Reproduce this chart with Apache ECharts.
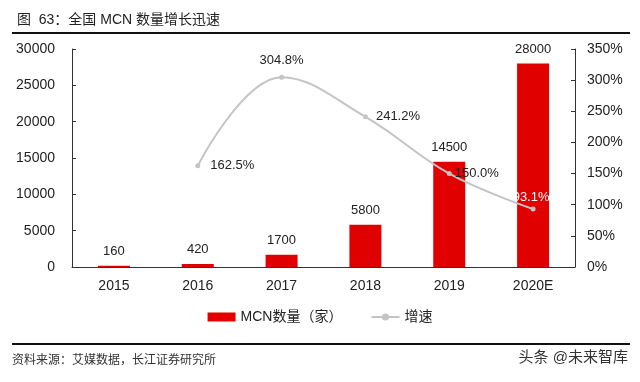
<!DOCTYPE html>
<html lang="zh">
<head>
    <meta charset="UTF-8">
    <title>mcn-growth</title>
    <script src="https://cdn.jsdelivr.net/npm/echarts@6.0.0/dist/echarts.min.js"></script>
    <style>
        body { margin: 0; background: #fff; }
    </style>
</head>
<body>
<div id="main" style="width: 640px;height:382px;"></div>
<script>
    // 数据
    var years = ['2015', '2016', '2017', '2018', '2019', '2020E'];
    var mcnCount = [160, 420, 1700, 5800, 14500, 28000];
    var growthRate = [null, 162.5, 304.8, 241.2, 150.0, 93.1];

    var font = '"Liberation Sans", Arial, "Noto Sans CJK SC", sans-serif';

    var chart = echarts.init(document.getElementById('main'));
    var option = {
        backgroundColor: '#fff',
        textStyle: { fontFamily: font },
        title: {
            text: '图  63：全国 MCN 数量增长迅速',
            left: 12,
            top: 8,
            textStyle: { fontSize: 14, fontWeight: 'normal', color: '#222', fontFamily: font }
        },
        legend: {
            bottom: 53,
            left: 'center',
            itemGap: 28,
            itemWidth: 28,
            itemHeight: 9,
            textStyle: { fontSize: 14, color: '#222' },
            data: [
                { name: 'MCN数量（家）', icon: 'rect', itemStyle: { color: '#e00000' } },
                { name: '增速' }
            ]
        },
        grid: {
            left: 72,
            right: 65,
            top: 49,
            bottom: 115
        },
        xAxis: {
            type: 'category',
            data: years,
            axisLine: { lineStyle: { color: '#333' } },
            axisTick: { inside: true, length: 4, lineStyle: { color: '#333' } },
            axisLabel: { fontSize: 14, color: '#222', margin: 12 }
        },
        yAxis: [
            {
                type: 'value',
                min: 0,
                max: 30000,
                interval: 5000,
                splitLine: { show: false },
                axisLine: { show: true, lineStyle: { color: '#333' } },
                axisTick: { show: true, inside: true, length: 4, lineStyle: { color: '#333' } },
                axisLabel: { fontSize: 14, color: '#222', margin: 17, formatter: function (v) { return String(v); } }
            },
            {
                type: 'value',
                min: 0,
                max: 350,
                interval: 50,
                splitLine: { show: false },
                axisLine: { show: true, lineStyle: { color: '#333' } },
                axisTick: { show: true, inside: true, length: 4, lineStyle: { color: '#333' } },
                axisLabel: { fontSize: 14, color: '#222', margin: 12, formatter: '{value}%' }
            }
        ],
        series: [
            {
                name: 'MCN数量（家）',
                type: 'bar',
                barWidth: 32,
                itemStyle: { color: '#e00000' },
                label: { show: true, position: 'top', fontSize: 13, color: '#222', distance: 8 },
                data: mcnCount
            },
            {
                name: '增速',
                type: 'line',
                yAxisIndex: 1,
                smooth: 0.4,
                symbol: 'circle',
                symbolSize: 5,
                itemStyle: { color: '#c4c4c4' },
                lineStyle: { color: '#c4c4c4', width: 2 },
                label: {
                    show: true,
                    fontSize: 13,
                    color: '#222',
                    formatter: function (p) { return p.value.toFixed(1) + '%'; }
                },
                data: [
                    null,
                    { value: growthRate[1], label: { position: 'right', distance: 10 } },
                    { value: growthRate[2], label: { position: 'top', distance: 8 } },
                    { value: growthRate[3], label: { position: 'right', distance: 8 } },
                    { value: growthRate[4], label: { position: 'right', distance: 3 } },
                    { value: growthRate[5], label: { position: 'top', distance: 3, color: '#fff', offset: [-2, 0] } }
                ]
            }
        ],
        graphic: [
            { type: 'rect', shape: { x: 12, y: 32, width: 618, height: 2 }, style: { fill: '#111' } },
            { type: 'rect', shape: { x: 12, y: 343, width: 618, height: 2 }, style: { fill: '#111' } },
            {
                type: 'text', left: 12, top: 355,
                style: { text: '资料来源：艾媒数据，长江证券研究所', fontSize: 12, fill: '#333', fontFamily: font }
            },
            {
                type: 'text', right: 12, top: 350,
                style: { text: '头条 @未来智库', fontSize: 15, fill: '#333', fontFamily: font }
            }
        ]
    };
    chart.setOption(option);
</script>
</body>
</html>
